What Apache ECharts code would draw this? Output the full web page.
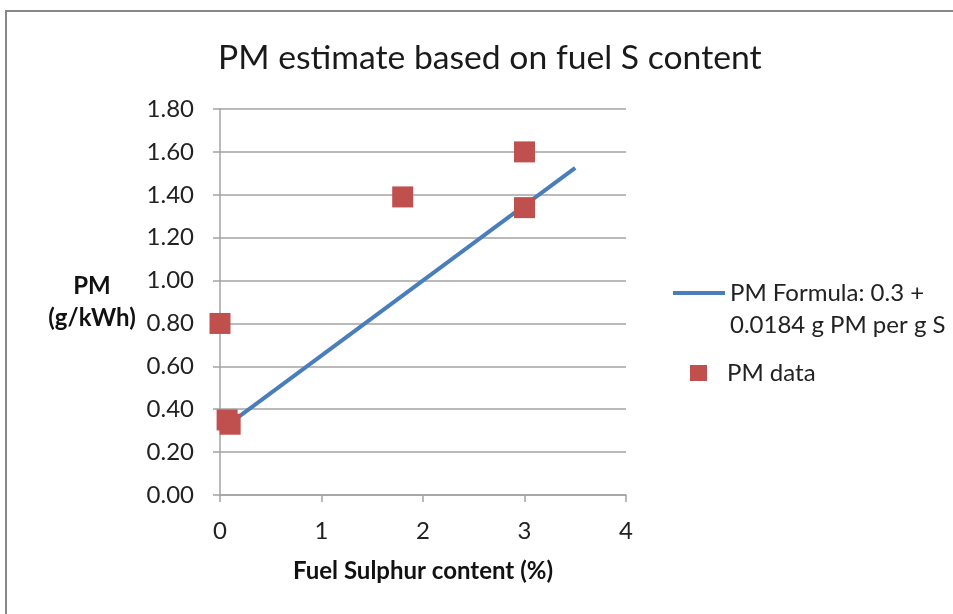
<!DOCTYPE html>
<html>
<head>
    <meta charset="UTF-8">
    <script src="https://cdn.jsdelivr.net/npm/echarts@6/dist/echarts.min.js"></script>
    <title>PM estimate</title>
    <style>
        html, body { margin: 0; padding: 0; background: #fff; }
        #main { width: 953px; height: 614px; }
    </style>
</head>
<body>
<div id="main"></div>
<script type="text/javascript">
    // PM (g/kWh) measured against fuel sulphur content (%)
    var dataX = [0, 0.07, 0.1, 1.8, 3, 3];
    var dataY = [0.80, 0.35, 0.33, 1.39, 1.60, 1.34];

    // formula line end points
    var lineX = [0.1, 3.5];
    var lineY = [0.335, 1.525];

    var fontName = 'Lato';
    var lineName = 'PM Formula: 0.3 +\n0.0184 g PM per g S';
    var dotName = 'PM data';
    var gridColor = '#a3a3a3';

    var points = dataX.map(function (x, i) { return [x, dataY[i]]; });
    var linePts = lineX.map(function (x, i) { return [x, lineY[i]]; });

    var myChart = echarts.init(document.getElementById('main'));
    myChart.setOption({
        backgroundColor: '#fff',
        animation: false,
        textStyle: { fontFamily: fontName },
        title: {
            text: 'PM estimate based on fuel S content',
            left: 213,
            top: 36,
            textStyle: { fontFamily: fontName, fontSize: 33.7, fontWeight: 'normal', color: '#1a1a1a' }
        },
        graphic: [{
            type: 'rect',
            shape: { x: 6, y: 11, width: 1000, height: 700 },
            style: { fill: 'none', stroke: '#888', lineWidth: 2 },
            silent: true
        }],
        grid: { left: 220, right: 327, top: 109, bottom: 119 },
        legend: [{
            data: [lineName],
            orient: 'vertical',
            left: 666,
            top: 240,
            itemWidth: 52,
            itemHeight: 4,
            lineStyle: { width: 4 },
            // empty first line keeps the icon level with the first text line
            formatter: function (name) { return '\n' + name; },
            textStyle: { fontFamily: fontName, fontSize: 24, color: '#222', lineHeight: 32 }
        }, {
            data: [{ name: dotName, icon: 'rect' }],
            orient: 'vertical',
            left: 685,
            top: 356,
            itemWidth: 17,
            itemHeight: 16,
            textStyle: { fontFamily: fontName, fontSize: 24, color: '#222', lineHeight: 24, padding: [0, 0, 0, 15] }
        }],
        xAxis: {
            type: 'value',
            min: 0,
            max: 4,
            interval: 1,
            name: 'Fuel Sulphur content (%)',
            nameLocation: 'middle',
            nameGap: 64,
            nameTextStyle: { fontFamily: fontName, fontSize: 24, fontWeight: 'bold', color: '#111', lineHeight: 24 },
            axisLine: { show: true, lineStyle: { color: gridColor, width: 1.5 } },
            axisTick: { show: true, length: 7, lineStyle: { color: gridColor, width: 1.5 } },
            axisLabel: { fontFamily: fontName, fontSize: 24, color: '#222', margin: 24, lineHeight: 24 },
            splitLine: { show: false }
        },
        yAxis: {
            type: 'value',
            min: 0,
            max: 1.8,
            interval: 0.2,
            name: 'PM\n(g/kWh)',
            nameLocation: 'middle',
            nameRotate: 0,
            nameGap: 128,
            nameTextStyle: {
                fontFamily: fontName, fontSize: 24, fontWeight: 'bold', color: '#111',
                lineHeight: 32, align: 'center', padding: [10, 0, 0, 0]
            },
            axisLine: { show: true, onZero: false, lineStyle: { color: gridColor, width: 1.5 } },
            axisTick: { show: true, length: 7, lineStyle: { color: gridColor, width: 1.5 } },
            axisLabel: {
                fontFamily: fontName, fontSize: 24, color: '#222', margin: 26,
                formatter: function (v) { return v.toFixed(2); }
            },
            splitLine: { show: true, lineStyle: { color: gridColor, width: 1.5 } }
        },
        series: [{
            name: lineName,
            type: 'line',
            data: linePts,
            symbol: 'none',
            lineStyle: { color: '#4A7EBB', width: 4 },
            itemStyle: { color: '#4A7EBB' },
            z: 2
        }, {
            name: dotName,
            type: 'scatter',
            data: points,
            symbol: 'rect',
            symbolSize: 21,
            itemStyle: { color: '#C0504D', opacity: 1 },
            z: 3
        }]
    });
</script>
</body>
</html>
